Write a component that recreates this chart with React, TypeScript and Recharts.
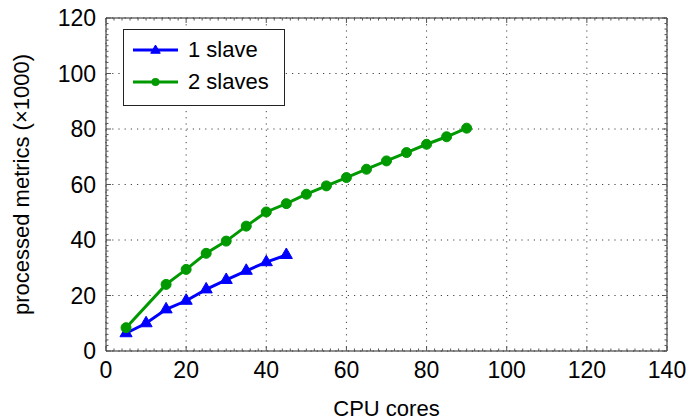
import React from 'react';
import { LineChart, Line, XAxis, YAxis, CartesianGrid, Legend } from 'recharts';

const cores1 = [5, 10, 15, 20, 25, 30, 35, 40, 45];
const metrics1 = [6.4, 10.0, 15.0, 18.1, 22.2, 25.6, 28.9, 32.0, 34.6];

const cores2 = [5, 15, 20, 25, 30, 35, 40, 45, 50, 55, 60, 65, 70, 75, 80, 85, 90];
const metrics2 = [8.4, 24.0, 29.4, 35.2, 39.6, 45.0, 50.1, 53.1, 56.5, 59.5, 62.5, 65.5, 68.5, 71.5, 74.5, 77.2, 80.3];

const seriesNames = ['1 slave', '2 slaves'];
const seriesColors = ['#0000ff', '#009900'];

const xMajorTicks = [0, 20, 40, 60, 80, 100, 120, 140];
const yMajorTicks = [0, 20, 40, 60, 80, 100, 120];
const xAllTicks = Array.from({ length: 71 }, (_, i) => i * 2);
const yAllTicks = Array.from({ length: 61 }, (_, i) => i * 2);

const xLabel = 'CPU cores';
const yLabel = 'processed metrics (×1000)';

const data1 = cores1.map((x, i) => ({ x, y: metrics1[i] }));
const data2 = cores2.map((x, i) => ({ x, y: metrics2[i] }));

const FONT = '"Liberation Sans", Arial, sans-serif';
const TICK_COLOR = '#555';
const FRAME = '#222';

const Triangle = (props: any) => {
  const { cx, cy, fill, size = 7, index } = props;
  if (cx == null || cy == null) return null;
  const s = size;
  const w = s * 0.866;
  return (
    <polygon
      key={`tri-${index}`}
      points={`${cx},${cy - s} ${cx - w},${cy + s / 2} ${cx + w},${cy + s / 2}`}
      fill={fill}
      stroke={fill}
      strokeWidth={1}
    />
  );
};

const makeTick = (side: 'bottom' | 'top' | 'left' | 'right') => (props: any) => {
  const { x, y, payload, index } = props;
  const major = payload.value % 20 === 0;
  const len = major ? 5 : 2.5;
  let x2 = x, y2 = y;
  if (side === 'bottom') y2 = y - len;
  if (side === 'top') y2 = y + len;
  if (side === 'left') x2 = x + len;
  if (side === 'right') x2 = x - len;
  return <line key={`t-${side}-${index}`} x1={x} y1={y} x2={x2} y2={y2} stroke={TICK_COLOR} strokeWidth={1} />;
};

const renderLegend = (props: any) => {
  const { payload } = props;
  return (
    <div
      style={{
        border: `1px solid ${FRAME}`,
        background: '#fff',
        width: 162,
        height: 77,
        boxSizing: 'border-box',
        paddingTop: 4,
        fontFamily: FONT,
        fontSize: 22,
        color: '#000',
      }}
    >
      {(payload || []).map((entry: any, i: number) => (
        <div key={i} style={{ display: 'flex', alignItems: 'center', height: 32 }}>
          <svg width={45} height={20} style={{ marginLeft: 9, marginRight: 10, display: 'block' }}>
            <line x1={0} y1={10} x2={45} y2={10} stroke={seriesColors[i]} strokeWidth={3} />
            {i === 0 ? (
              <Triangle cx={22.5} cy={10.5} fill={seriesColors[i]} size={5.5} index={0} />
            ) : (
              <circle cx={22.5} cy={10} r={4} fill={seriesColors[i]} />
            )}
          </svg>
          <span style={{ lineHeight: '22px' }}>{entry.value}</span>
        </div>
      ))}
    </div>
  );
};

export default function App() {
  return (
    <div style={{ position: 'fixed', left: 0, top: 0, width: 689, height: 420, background: '#fff' }}>
      <LineChart width={689} height={420} margin={{ top: 18, right: 22, left: 0, bottom: 0 }}>
        <CartesianGrid
          xAxisId="x"
          yAxisId="y"
          stroke="#444"
          strokeDasharray="1.2 5"
          fill="none"
        />
        <XAxis
          xAxisId="x"
          dataKey="x"
          type="number"
          domain={[0, 140]}
          allowDataOverflow
          ticks={xMajorTicks}
          interval={0}
          height={69}
          tickLine={false}
          tickSize={0}
          tickMargin={11}
          axisLine={{ stroke: FRAME, strokeWidth: 1 }}
          tick={{ fontFamily: FONT, fontSize: 23, fill: '#000' }}
          label={{
            content: ({ viewBox }: any) => (
              <text
                x={viewBox.x + viewBox.width / 2}
                y={viewBox.y + 65}
                textAnchor="middle"
                fontFamily={FONT}
                fontSize={22}
                fill="#000"
              >
                {xLabel}
              </text>
            ),
          }}
        />
        <XAxis
          xAxisId="xb"
          dataKey="x"
          type="number"
          orientation="bottom"
          mirror
          domain={[0, 140]}
          allowDataOverflow
          ticks={xAllTicks}
          interval={0}
          height={1}
          tickLine={false}
          tickSize={0}
          tickMargin={0}
          axisLine={false}
          tick={makeTick('bottom')}
        />
        <XAxis
          xAxisId="xt"
          dataKey="x"
          type="number"
          orientation="top"
          mirror
          domain={[0, 140]}
          allowDataOverflow
          ticks={xAllTicks}
          interval={0}
          height={1}
          tickLine={false}
          tickSize={0}
          tickMargin={0}
          axisLine={{ stroke: FRAME, strokeWidth: 1 }}
          tick={makeTick('top')}
        />
        <YAxis
          yAxisId="y"
          type="number"
          domain={[0, 120]}
          allowDataOverflow
          ticks={yMajorTicks}
          interval={0}
          width={106}
          tickLine={false}
          tickSize={0}
          tickMargin={10}
          axisLine={{ stroke: FRAME, strokeWidth: 1 }}
          tick={{ fontFamily: FONT, fontSize: 23, fill: '#000' }}
          label={{
            content: ({ viewBox }: any) => {
              const cx = 29;
              const cy = viewBox.y + viewBox.height / 2;
              return (
                <text
                  x={cx}
                  y={cy}
                  transform={`rotate(-90, ${cx}, ${cy})`}
                  textAnchor="middle"
                  fontFamily={FONT}
                  fontSize={22}
                  fill="#000"
                >
                  {yLabel}
                </text>
              );
            },
          }}
        />
        <YAxis
          yAxisId="yl"
          type="number"
          orientation="left"
          mirror
          domain={[0, 120]}
          allowDataOverflow
          ticks={yAllTicks}
          interval={0}
          width={1}
          tickLine={false}
          tickSize={0}
          tickMargin={0}
          axisLine={false}
          tick={makeTick('left')}
        />
        <YAxis
          yAxisId="yr"
          type="number"
          orientation="right"
          mirror
          domain={[0, 120]}
          allowDataOverflow
          ticks={yAllTicks}
          interval={0}
          width={1}
          tickLine={false}
          tickSize={0}
          tickMargin={0}
          axisLine={{ stroke: FRAME, strokeWidth: 1 }}
          tick={makeTick('right')}
        />
        <Legend
          layout="horizontal"
          verticalAlign="middle"
          align="center"
          content={renderLegend}
          wrapperStyle={{ position: 'absolute', left: 123, top: 29, width: 162, height: 77 }}
        />
        <Line
          xAxisId="x"
          yAxisId="y"
          data={data1}
          dataKey="y"
          name={seriesNames[0]}
          stroke={seriesColors[0]}
          strokeWidth={3}
          dot={(p: any) => <Triangle {...p} fill={seriesColors[0]} size={7} />}
          activeDot={false}
          isAnimationActive={false}
        />
        <Line
          xAxisId="x"
          yAxisId="y"
          data={data2}
          dataKey="y"
          name={seriesNames[1]}
          stroke={seriesColors[1]}
          strokeWidth={3}
          dot={{ r: 5, fill: seriesColors[1], stroke: seriesColors[1], strokeWidth: 1 }}
          activeDot={false}
          isAnimationActive={false}
        />
      </LineChart>
    </div>
  );
}
